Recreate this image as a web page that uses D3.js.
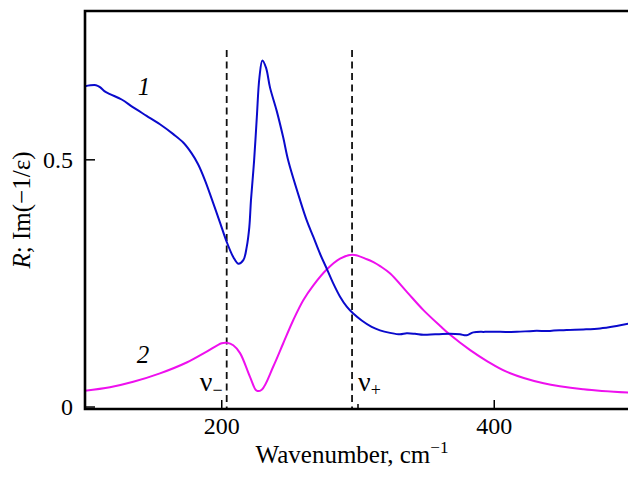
<!DOCTYPE html>
<html>
<head>
<meta charset="utf-8">
<script src="https://cdn.jsdelivr.net/npm/d3@7"></script>
<style>
  body { margin: 0; background: #fff; }
  text { font-family: "Liberation Serif", "Times New Roman", serif; fill: #000; }
</style>
</head>
<body>
<svg id="chart"></svg>
<script>
// curve 1: reflectance R
const wn1 = [100, 108.1, 111, 114.2, 118.3, 126.9, 135.4, 145.2, 155, 164.8, 172.1, 178.3, 183, 188, 193,
  199.1, 204, 208.9, 212.5, 216.2, 218.7, 220.6, 221.8, 224.1, 226.1, 228, 230.2, 232.9, 235.8, 240.7, 245.5,
  249.2, 257.9, 262.8, 267.6, 272.5, 277.4, 282.2, 287.2, 292.1, 296.9, 303.1, 310.4, 316.5, 323.9, 331.2,
  336.1, 342.2, 348.3, 356.9, 367.9, 375.2, 380.1, 385, 393.6, 404.6, 416.9, 429, 441.3, 453.5, 465.7, 478,
  490.2, 500];
const R1 = [0.648, 0.650, 0.646, 0.638, 0.632, 0.621, 0.605, 0.588, 0.571, 0.551, 0.534, 0.512, 0.490, 0.458, 0.420,
  0.372, 0.333, 0.302, 0.289, 0.296, 0.323, 0.363, 0.417, 0.497, 0.585, 0.665, 0.700, 0.685, 0.645, 0.598, 0.544,
  0.497, 0.417, 0.376, 0.343, 0.309, 0.279, 0.249, 0.222, 0.202, 0.188, 0.174, 0.161, 0.154, 0.149, 0.146,
  0.148, 0.147, 0.145, 0.146, 0.147, 0.146, 0.144, 0.150, 0.151, 0.151, 0.151, 0.153, 0.153, 0.155, 0.156, 0.158,
  0.163, 0.168];

// curve 2: loss function Im(-1/eps)
const wn2 = [100, 118.3, 135.4, 155, 174.6, 189.3, 200.3, 204, 208.8, 213.8, 221.1, 226, 229.7, 238.2, 245.5,
  252.9, 260.2, 267.6, 277.4, 287.2, 296.3, 306.9, 311.7, 316.6, 324, 336.2, 348.4, 360.7, 368, 382.7, 395,
  409.7, 436.6, 465.9, 500];
const L2 = [0.032, 0.039, 0.050, 0.067, 0.089, 0.111, 0.128, 0.129, 0.124, 0.108, 0.060, 0.032, 0.034, 0.081, 0.128,
  0.175, 0.215, 0.245, 0.277, 0.299, 0.307, 0.298, 0.292, 0.284, 0.269, 0.232, 0.195, 0.163, 0.145, 0.114, 0.092,
  0.070, 0.047, 0.035, 0.028];

const nuMinus = 204, nuPlus = 296;
const xMajor = [200, 400], xMinor = [300];
const yTicks = [0, 0.5];

const width = 628, height = 477;
const margin = { top: 11, right: -2, bottom: 68, left: 85 };

const svg = d3.select("#chart").attr("width", width).attr("height", height);

const x = d3.scaleLinear().domain([100, 500]).range([margin.left, width - margin.right]);
const y = d3.scaleLinear().domain([-0.005, 0.8]).range([height - margin.bottom, margin.top]);

const line = d3.line().x(d => x(d[0])).y(d => y(d[1])).curve(d3.curveCatmullRom.alpha(0.5));

// dashed markers
svg.selectAll("line.nu")
  .data([nuMinus, nuPlus])
  .join("line")
  .attr("class", "nu")
  .attr("x1", d => x(d)).attr("x2", d => x(d))
  .attr("y1", 50).attr("y2", y.range()[0])
  .attr("stroke", "#111").attr("stroke-width", 1.8)
  .attr("stroke-dasharray", "7,4.5");

// curves
svg.append("path")
  .datum(d3.zip(wn2, L2))
  .attr("d", line)
  .attr("fill", "none")
  .attr("stroke", "#ee10ee")
  .attr("stroke-width", 2);

svg.append("path")
  .datum(d3.zip(wn1, R1))
  .attr("d", line)
  .attr("fill", "none")
  .attr("stroke", "#0a0acc")
  .attr("stroke-width", 2);

// axes
const xAxis = svg.append("g")
  .attr("transform", `translate(0,${y.range()[0]})`)
  .call(d3.axisBottom(x).tickValues(xMajor).tickSize(-9).tickPadding(8));
svg.append("g")
  .attr("transform", `translate(0,${y.range()[0]})`)
  .call(d3.axisBottom(x).tickValues(xMinor).tickSize(-5).tickFormat(""))
  .call(g => g.select(".domain").remove());
const yAxis = svg.append("g")
  .attr("transform", `translate(${margin.left},0)`)
  .call(d3.axisLeft(y).tickValues(yTicks).tickSize(-10).tickPadding(12)
    .tickFormat(d => d === 0 ? "0" : d3.format(".1f")(d)));

[xAxis, yAxis].forEach(g => {
  g.select(".domain").remove();
  g.selectAll("text").attr("font-size", 24).attr("font-family", "Liberation Serif");
});
svg.selectAll(".tick line").attr("stroke", "#000").attr("stroke-width", 1.5);

// frame (left, bottom, top)
const x0 = margin.left, x1 = width + 4, yb = y.range()[0], yt = margin.top;
svg.append("path")
  .attr("d", `M${x1},${yt}H${x0}V${yb}H${x1}`)
  .attr("fill", "none").attr("stroke", "#000").attr("stroke-width", 2.6);

// axis titles
svg.append("text")
  .attr("x", 352).attr("y", 463)
  .attr("text-anchor", "middle").attr("font-size", 25)
  .html('Wavenumber, cm<tspan dy="-10" font-size="17">−1</tspan>');

svg.append("text")
  .attr("transform", "translate(30,210) rotate(-90)")
  .attr("text-anchor", "middle").attr("font-size", 25)
  .html('<tspan font-style="italic">R</tspan>; Im(−1/ε)');

// curve labels
svg.append("text").attr("x", 144).attr("y", 95).attr("text-anchor", "middle")
  .attr("font-size", 25).attr("font-style", "italic").text("1");
svg.append("text").attr("x", 143).attr("y", 363).attr("text-anchor", "middle")
  .attr("font-size", 25).attr("font-style", "italic").text("2");

// nu labels
svg.append("text").attr("x", x(nuMinus) - 4).attr("y", 391).attr("text-anchor", "end")
  .attr("font-size", 28)
  .html('ν<tspan dy="5" font-size="18">−</tspan>');
svg.append("text").attr("x", x(nuPlus) + 6).attr("y", 391)
  .attr("font-size", 28)
  .html('ν<tspan dy="5" font-size="18">+</tspan>');
</script>
</body>
</html>
